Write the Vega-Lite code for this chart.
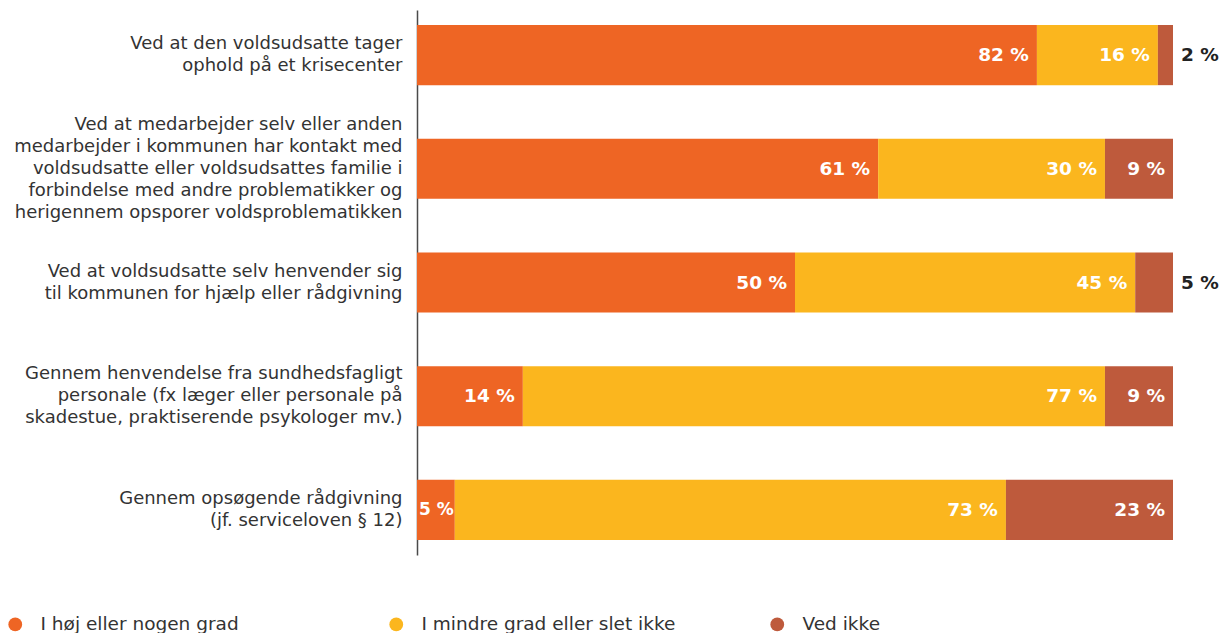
{
  "$schema": "https://vega.github.io/schema/vega-lite/v6.json",
  "autosize": "none",
  "width": 756,
  "height": 545,
  "padding": {"left": 417, "top": 10, "right": 49, "bottom": 78},
  "background": "white",
  "config": {"view": {"stroke": null}, "font": "DejaVu Sans"},
  "data": {"values": [
    {"cat": "Ved at den voldsudsatte tager|ophold på et krisecenter", "grp": "I høj eller nogen grad", "ord": 1, "value": 82, "label": "82 %"},
    {"cat": "Ved at den voldsudsatte tager|ophold på et krisecenter", "grp": "I mindre grad eller slet ikke", "ord": 2, "value": 16, "label": "16 %"},
    {"cat": "Ved at den voldsudsatte tager|ophold på et krisecenter", "grp": "Ved ikke", "ord": 3, "value": 2, "label": "2 %"},
    {"cat": "Ved at medarbejder selv eller anden|medarbejder i kommunen har kontakt med|voldsudsatte eller voldsudsattes familie i|forbindelse med andre problematikker og|herigennem opsporer voldsproblematikken", "grp": "I høj eller nogen grad", "ord": 1, "value": 61, "label": "61 %"},
    {"cat": "Ved at medarbejder selv eller anden|medarbejder i kommunen har kontakt med|voldsudsatte eller voldsudsattes familie i|forbindelse med andre problematikker og|herigennem opsporer voldsproblematikken", "grp": "I mindre grad eller slet ikke", "ord": 2, "value": 30, "label": "30 %"},
    {"cat": "Ved at medarbejder selv eller anden|medarbejder i kommunen har kontakt med|voldsudsatte eller voldsudsattes familie i|forbindelse med andre problematikker og|herigennem opsporer voldsproblematikken", "grp": "Ved ikke", "ord": 3, "value": 9, "label": "9 %"},
    {"cat": "Ved at voldsudsatte selv henvender sig|til kommunen for hjælp eller rådgivning", "grp": "I høj eller nogen grad", "ord": 1, "value": 50, "label": "50 %"},
    {"cat": "Ved at voldsudsatte selv henvender sig|til kommunen for hjælp eller rådgivning", "grp": "I mindre grad eller slet ikke", "ord": 2, "value": 45, "label": "45 %"},
    {"cat": "Ved at voldsudsatte selv henvender sig|til kommunen for hjælp eller rådgivning", "grp": "Ved ikke", "ord": 3, "value": 5, "label": "5 %"},
    {"cat": "Gennem henvendelse fra sundhedsfagligt|personale (fx læger eller personale på|skadestue, praktiserende psykologer mv.)", "grp": "I høj eller nogen grad", "ord": 1, "value": 14, "label": "14 %"},
    {"cat": "Gennem henvendelse fra sundhedsfagligt|personale (fx læger eller personale på|skadestue, praktiserende psykologer mv.)", "grp": "I mindre grad eller slet ikke", "ord": 2, "value": 77, "label": "77 %"},
    {"cat": "Gennem henvendelse fra sundhedsfagligt|personale (fx læger eller personale på|skadestue, praktiserende psykologer mv.)", "grp": "Ved ikke", "ord": 3, "value": 9, "label": "9 %"},
    {"cat": "Gennem opsøgende rådgivning|(jf. serviceloven § 12)", "grp": "I høj eller nogen grad", "ord": 1, "value": 5, "label": "5 %"},
    {"cat": "Gennem opsøgende rådgivning|(jf. serviceloven § 12)", "grp": "I mindre grad eller slet ikke", "ord": 2, "value": 72.9, "label": "73 %"},
    {"cat": "Gennem opsøgende rådgivning|(jf. serviceloven § 12)", "grp": "Ved ikke", "ord": 3, "value": 22.1, "label": "23 %"}
  ]},
  "transform": [
    {"stack": "value", "groupby": ["cat"], "sort": [{"field": "ord", "order": "ascending"}], "as": ["x0", "x1"]}
  ],
  "encoding": {
    "y": {
      "field": "cat", "type": "nominal", "sort": null,
      "scale": {"paddingInner": 0.471, "paddingOuter": 0.132},
      "axis": {
        "title": null, "ticks": false, "domain": true, "domainColor": "#4a4a4a", "domainWidth": 1.5,
        "labelExpr": "split(datum.label, '|')", "labelFontSize": 18, "labelColor": "#333333",
        "labelLineHeight": 22, "labelPadding": 15, "labelLimit": 420, "labelAlign": "right", "labelBaseline": "middle",
        "labelOffset": {
          "condition": [
            {"test": "length(split(datum.value, '|')) == 5", "value": -44},
            {"test": "length(split(datum.value, '|')) == 3", "value": -22}
          ],
          "value": -11
        }
      }
    }
  },
  "layer": [
    {
      "mark": {"type": "bar"},
      "encoding": {
        "x": {"field": "x0", "type": "quantitative", "scale": {"domain": [0, 100], "nice": false}, "axis": null},
        "x2": {"field": "x1"},
        "color": {
          "field": "grp", "type": "nominal",
          "scale": {"domain": ["I høj eller nogen grad", "I mindre grad eller slet ikke", "Ved ikke"], "range": ["#EE6524", "#FBB61E", "#BE5A3C"]},
          "legend": {
            "title": null, "orient": "none", "direction": "horizontal", "legendX": -411, "legendY": 605,
            "symbolType": "circle", "symbolSize": 190, "symbolStrokeWidth": 0,
            "labelFontSize": 18.5, "labelColor": "#333333", "labelOffset": 16, "labelLimit": 400,
            "columns": 3, "gridAlign": "all", "columnPadding": 92
          }
        }
      }
    },
    {
      "transform": [{"filter": "datum.value >= 6"}],
      "mark": {"type": "text", "align": "right", "baseline": "middle", "dx": -8, "fontSize": 18.5, "fontWeight": "bold", "color": "white"},
      "encoding": {
        "x": {"field": "x1", "type": "quantitative"},
        "text": {"field": "label"}
      }
    },
    {
      "transform": [{"filter": "datum.value < 6 && datum.grp != 'Ved ikke'"}],
      "mark": {"type": "text", "align": "right", "baseline": "middle", "dx": -1, "fontSize": 17, "fontWeight": "bold", "color": "white"},
      "encoding": {
        "x": {"field": "x1", "type": "quantitative"},
        "text": {"field": "label"}
      }
    },
    {
      "transform": [{"filter": "datum.grp == 'Ved ikke' && datum.value < 6"}],
      "mark": {"type": "text", "align": "left", "baseline": "middle", "dx": 8, "fontSize": 18.5, "fontWeight": "bold", "color": "#222222"},
      "encoding": {
        "x": {"field": "x1", "type": "quantitative"},
        "text": {"field": "label"}
      }
    }
  ]
}
